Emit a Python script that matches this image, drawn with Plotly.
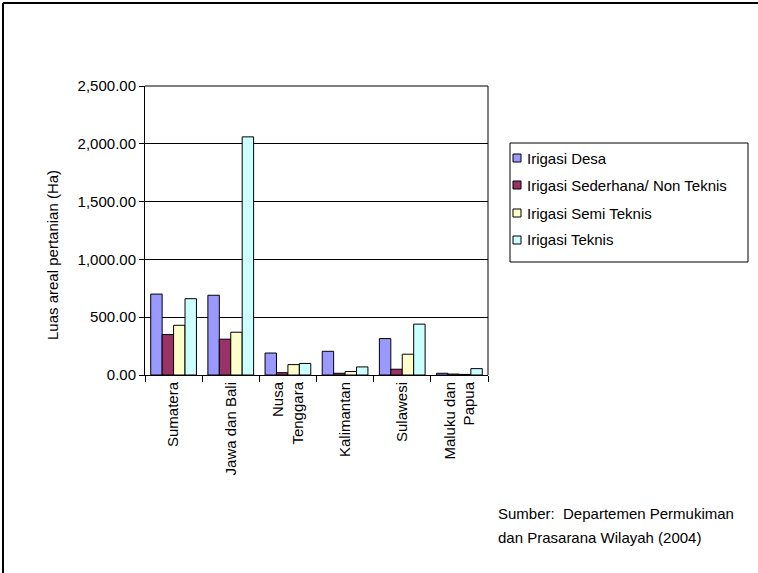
import plotly.graph_objects as go

# Luas areal irigasi per pulau (Ha)
regions = ["Sumatera", "Jawa dan Bali", "Nusa<br>Tenggara", "Kalimantan",
           "Sulawesi", "Maluku dan<br>Papua"]
irigasi_desa = [700, 690, 190, 205, 315, 15]
irigasi_sederhana = [350, 310, 20, 15, 50, 8]
irigasi_semi = [430, 370, 90, 30, 180, 5]
irigasi_teknis = [660, 2060, 100, 70, 440, 55]

series = [
    ("Irigasi Desa", irigasi_desa, "#9999FF"),
    ("Irigasi Sederhana/ Non Teknis", irigasi_sederhana, "#993366"),
    ("Irigasi Semi Teknis", irigasi_semi, "#FFFFCC"),
    ("Irigasi Teknis", irigasi_teknis, "#CCFFFF"),
]

FONT = "Liberation Sans, Arial, sans-serif"
FS = 15

fig = go.Figure()
for name, vals, color in series:
    fig.add_trace(
        go.Bar(
            name=name,
            x=regions,
            y=vals,
            marker=dict(color=color, line=dict(color="#000000", width=1)),
            showlegend=False,
        )
    )

# plot area in page pixels
W, H = 758, 573
L, R, T, B = 145, 488, 86, 375
pw, ph = R - L, B - T


def px_x(x):
    return (x - L) / pw


def px_y(y):
    return (B - y) / ph


shapes = [
    # outer chart frame (only left and top edges fall inside the window)
    dict(type="line", xref="paper", yref="paper",
         x0=px_x(3), x1=px_x(3), y0=px_y(3), y1=px_y(620),
         line=dict(color="#000000", width=2)),
    dict(type="line", xref="paper", yref="paper",
         x0=px_x(3), x1=px_x(800), y0=px_y(3), y1=px_y(3),
         line=dict(color="#000000", width=2)),
    # plot frame right and top
    dict(type="line", xref="paper", yref="paper",
         x0=1, x1=1, y0=0, y1=1, line=dict(color="#000000", width=1)),
    dict(type="line", xref="paper", yref="paper",
         x0=0, x1=1, y0=1, y1=1, line=dict(color="#000000", width=1)),
    # legend box
    dict(type="rect", xref="paper", yref="paper",
         x0=px_x(510), x1=px_x(748), y0=px_y(143), y1=px_y(262),
         line=dict(color="#000000", width=1), fillcolor="white"),
]

annotations = [
    dict(text="Luas areal pertanian (Ha)", xref="paper", yref="paper",
         x=px_x(52), y=px_y(255), textangle=-90, showarrow=False,
         xanchor="center", yanchor="middle", font=dict(size=FS)),
    dict(text="Sumber:  Departemen Permukiman", xref="paper", yref="paper",
         x=px_x(496), y=px_y(513), xanchor="left", yanchor="middle",
         showarrow=False, font=dict(size=FS)),
    dict(text="dan Prasarana Wilayah (2004)", xref="paper", yref="paper",
         x=px_x(496), y=px_y(537), xanchor="left", yanchor="middle",
         showarrow=False, font=dict(size=FS)),
]

# legend entries
legend_rows = [158, 185, 213, 240]
for (name, _, color), yc in zip(series, legend_rows):
    shapes.append(dict(type="rect", xref="paper", yref="paper",
                       x0=px_x(513), x1=px_x(521), y0=px_y(yc - 4), y1=px_y(yc + 4),
                       line=dict(color="#000000", width=1), fillcolor=color))
    annotations.append(dict(text=name, xref="paper", yref="paper",
                            x=px_x(525), y=px_y(yc), xanchor="left", yanchor="middle",
                            showarrow=False, font=dict(size=FS)))

fig.update_layout(
    width=W,
    height=H,
    margin=dict(l=L, r=W - R, t=T, b=H - B),
    paper_bgcolor="white",
    plot_bgcolor="white",
    font=dict(family=FONT, size=FS, color="#000000"),
    barmode="group",
    bargap=0.2,
    bargroupgap=0.0,
    showlegend=False,
    xaxis=dict(
        showline=True, linecolor="#000000", linewidth=1,
        ticks="outside", ticklen=6, tickcolor="#000000",
        tickson="boundaries", tickangle=-90,
        tickfont=dict(size=FS),
    ),
    yaxis=dict(
        range=[0, 2500], dtick=500, tickformat=",.2f",
        showline=True, linecolor="#000000", linewidth=1,
        ticks="outside", ticklen=5, tickcolor="#000000",
        showgrid=True, gridcolor="#000000", gridwidth=1,
        zeroline=False,
        tickfont=dict(size=FS),
    ),
    annotations=annotations,
    shapes=shapes,
)

fig.write_html(
    "out.html",
    config={"displayModeBar": False},
    post_script="document.body.style.margin='0';",
)
